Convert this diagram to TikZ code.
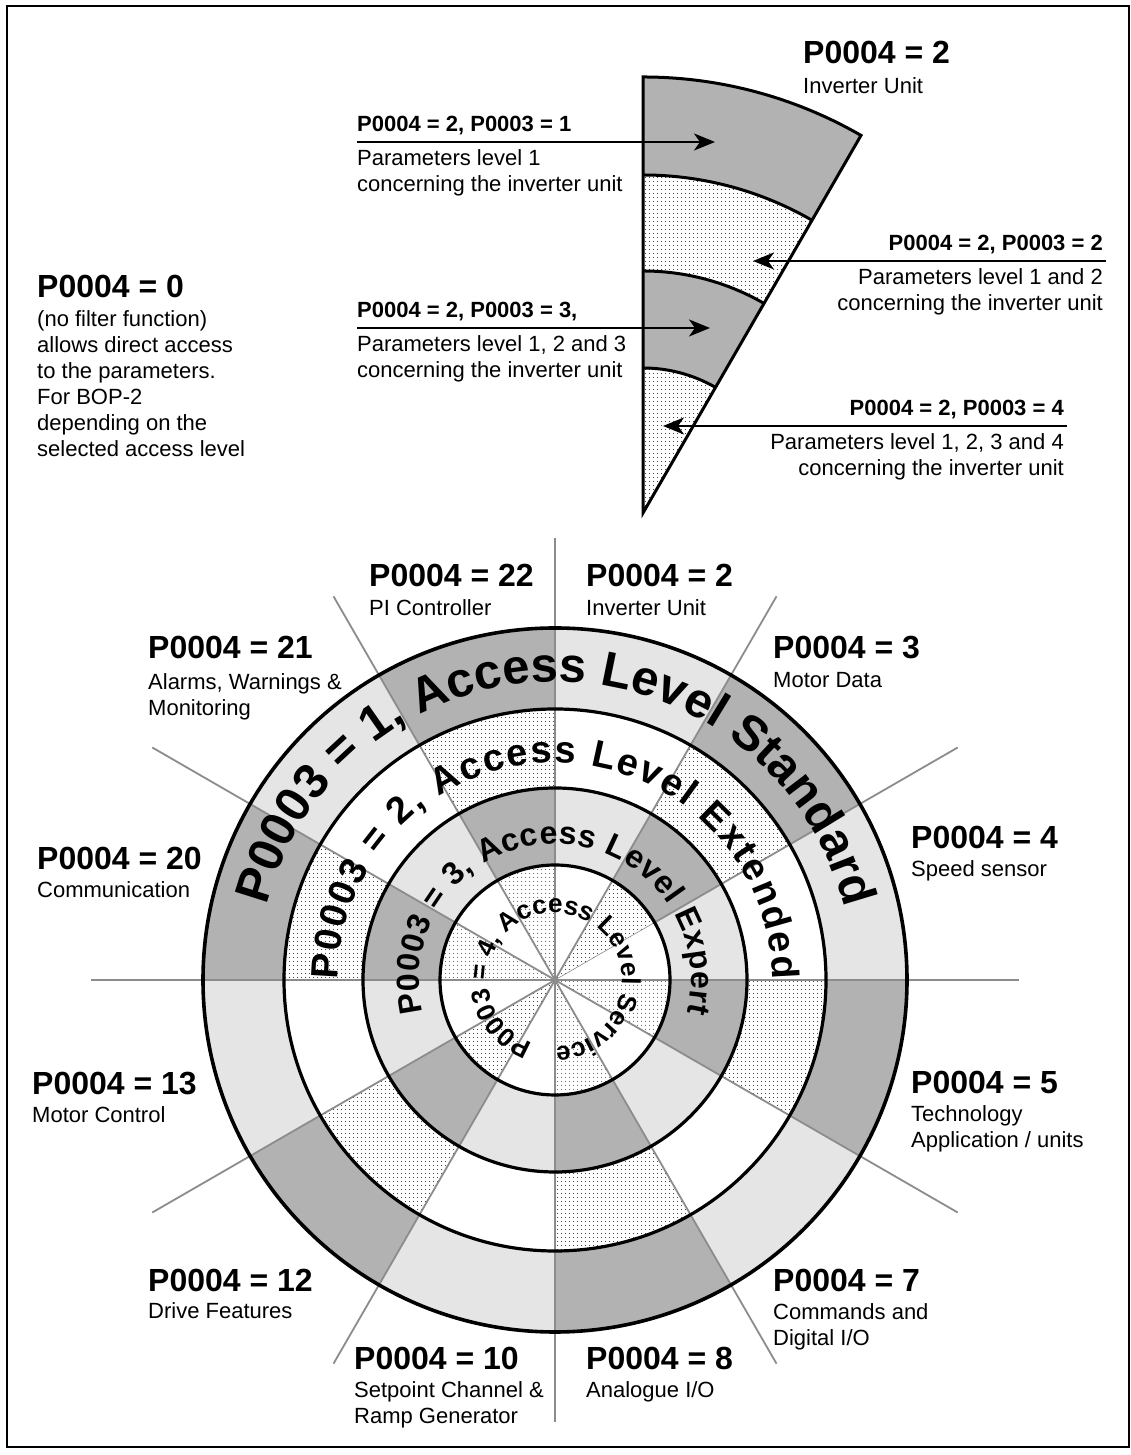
\documentclass[tikz,border=0pt]{standalone}
\usepackage{fontspec}
\setmainfont{Liberation Sans}
\usetikzlibrary{calc,patterns.meta,decorations.text,arrows.meta}

\tikzdeclarepattern{
  name=finedots,
  type=uncolored,
  bounding box={(0pt,0pt) and (4pt,4pt)},
  tile size={(4pt,4pt)},
  code={\fill (2pt,2pt) circle (0.6pt);}
}

\definecolor{darkg}{gray}{0.70}
\definecolor{lightg}{gray}{0.90}
\definecolor{lineg}{gray}{0.55}

\newcommand\ringAfont{\fontsize{49}{49}\selectfont\bfseries}
\newcommand\ringBfont{\fontsize{38}{38}\selectfont\bfseries}
\newcommand\ringCfont{\fontsize{32}{32}\selectfont\bfseries}
\newcommand\ringDfont{\fontsize{26}{26}\selectfont\bfseries}

\begin{document}
\begin{tikzpicture}[x=1pt,y=1pt,
  hdr/.style={anchor=base west,inner sep=0pt,font=\fontsize{32}{32}\selectfont\bfseries},
  sub/.style={anchor=base west,inner sep=0pt,font=\fontsize{22}{26}\selectfont},
  subr/.style={anchor=base east,inner sep=0pt,font=\fontsize{22}{26}\selectfont},
  hdrs/.style={anchor=base west,inner sep=0pt,font=\fontsize{22}{26}\selectfont\bfseries},
  hdrsr/.style={anchor=base east,inner sep=0pt,font=\fontsize{22}{26}\selectfont\bfseries},
  radial/.style={draw=lineg,line width=1.8pt},
  ringline/.style={draw=black,line width=3.2pt},
  wedgeline/.style={draw=black,line width=3pt,line join=miter},
  arr/.style={draw=black,line width=2.5pt,-{Stealth[length=21pt,width=17pt,inset=6pt]}},
  dotfill/.style={pattern=finedots,pattern color=black}
]
\useasboundingbox (0,0) rectangle (1131,1455);
\fill[white] (0,0) rectangle (1131,1455);
\draw[line width=2.5pt] (7,8) rectangle (1129,1449);

% ---------------- main circle ----------------
\coordinate (C) at (555,475);

\foreach \k in {0,...,11}{
  \pgfmathtruncatemacro\a{30*\k}
  \pgfmathtruncatemacro\b{30*\k+30}
  \ifodd\k\relax
    \fill[darkg] ($(C)+(\a:352)$) arc[start angle=\a,end angle=\b,radius=352]
      -- ($(C)+(\b:271)$) arc[start angle=\b,end angle=\a,radius=271] -- cycle;
    \fill[dotfill] ($(C)+(\a:271)$) arc[start angle=\a,end angle=\b,radius=271]
      -- ($(C)+(\b:192)$) arc[start angle=\b,end angle=\a,radius=192] -- cycle;
    \fill[darkg] ($(C)+(\a:192)$) arc[start angle=\a,end angle=\b,radius=192]
      -- ($(C)+(\b:115)$) arc[start angle=\b,end angle=\a,radius=115] -- cycle;
    \fill[dotfill] (C) -- ($(C)+(\a:115)$) arc[start angle=\a,end angle=\b,radius=115] -- cycle;
  \else
    \fill[lightg] ($(C)+(\a:352)$) arc[start angle=\a,end angle=\b,radius=352]
      -- ($(C)+(\b:271)$) arc[start angle=\b,end angle=\a,radius=271] -- cycle;
    \fill[lightg] ($(C)+(\a:192)$) arc[start angle=\a,end angle=\b,radius=192]
      -- ($(C)+(\b:115)$) arc[start angle=\b,end angle=\a,radius=115] -- cycle;
  \fi
}

% radial separator lines
\foreach \ang/\len in {0/464,60/443,90/442,120/443,150/465,180/464,210/465,240/443,270/442,300/443,330/465}{
  \draw[radial] (C) -- ++(\ang:\len);
}
\draw[radial] ($(C)+(30:115)$) -- ($(C)+(30:465)$);
\draw[draw=lineg,line width=0.6pt] (C) -- ($(C)+(30:115)$);

% ring boundaries
\draw[ringline,line width=3.6pt] (C) circle[radius=352];
\draw[ringline] (C) circle[radius=271];
\draw[ringline] (C) circle[radius=192];
\draw[ringline] (C) circle[radius=115];

% ring texts
\path[decorate,decoration={text along path,text={|\ringAfont|P0003 = 1, Access Level Standard},text align={fit to path}}]
  ($(C)+(165.5:298)$) arc[start angle=165.5,end angle=14.5,radius=298];
\path[decorate,decoration={text along path,text={|\ringBfont|P0003 = 2, Access Level Extended},text align={fit to path}}]
  ($(C)+(180:217)$) arc[start angle=180,end angle=0,radius=217];
\path[decorate,decoration={text along path,text={|\ringCfont|P0003 = 3, Access Level Expert},text align={fit to path}}]
  ($(C)+(194:136)$) arc[start angle=194,end angle=-14,radius=136];
\path[decorate,decoration={text along path,text={|\ringDfont|P0003 = 4, Access Level Service},text align={fit to path}}]
  ($(C)+(251:67)$) arc[start angle=251,end angle=-86,radius=67];

% ---------------- top wedge ----------------
\coordinate (W) at (643,942);
\fill[darkg] ($(W)+(60:436)$) arc[start angle=60,end angle=90,radius=436]
  -- ($(W)+(90:338)$) arc[start angle=90,end angle=60,radius=338] -- cycle;
\fill[dotfill] ($(W)+(60:338)$) arc[start angle=60,end angle=90,radius=338]
  -- ($(W)+(90:242)$) arc[start angle=90,end angle=60,radius=242] -- cycle;
\fill[darkg] ($(W)+(60:242)$) arc[start angle=60,end angle=90,radius=242]
  -- ($(W)+(90:145)$) arc[start angle=90,end angle=60,radius=145] -- cycle;
\fill[dotfill] (W) -- ($(W)+(60:145)$) arc[start angle=60,end angle=90,radius=145] -- cycle;
\draw[wedgeline] ($(W)+(90:338)$) arc[start angle=90,end angle=60,radius=338];
\draw[wedgeline] ($(W)+(90:242)$) arc[start angle=90,end angle=60,radius=242];
\draw[wedgeline] ($(W)+(90:145)$) arc[start angle=90,end angle=60,radius=145];
\draw[wedgeline] (W) -- ($(W)+(90:436)$) arc[start angle=90,end angle=60,radius=436] -- cycle;

% ---------------- arrows and their labels ----------------
\node[hdr] (htop) at (803,1391) {P0004 = 2};
\node[sub] (ttop) at (803,1361) {Inverter Unit};

\node[hdrs] (l1) at (357,1323) {P0004 = 2, P0003 = 1};
\node[sub] (l1a) at (357,1289) {Parameters level 1};
\node[sub] (l1b) at (357,1263) {concerning the inverter unit};
\coordinate (a1s) at (357,1313);
\coordinate (a1t) at (715,1313);
\draw[arr] (a1s) -- (a1t);

\node[hdrsr] (l2) at (1103,1204) {P0004 = 2, P0003 = 2};
\node[subr] (l2a) at (1103,1170) {Parameters level 1 and 2};
\node[subr] (l2b) at (1103,1144) {concerning the inverter unit};
\coordinate (a2s) at (1106,1194);
\coordinate (a2t) at (753,1194);
\draw[arr] (a2s) -- (a2t);

\node[hdrs] (l3) at (357,1137) {P0004 = 2, P0003 = 3,};
\node[sub] (l3a) at (357,1103) {Parameters level 1, 2 and 3};
\node[sub] (l3b) at (357,1077) {concerning the inverter unit};
\coordinate (a3s) at (357,1127);
\coordinate (a3t) at (710,1127);
\draw[arr] (a3s) -- (a3t);

\node[hdrsr] (l4) at (1064,1039) {P0004 = 2, P0003 = 4};
\node[subr] (l4a) at (1064,1005) {Parameters level 1, 2, 3 and 4};
\node[subr] (l4b) at (1064,979) {concerning the inverter unit};
\coordinate (a4s) at (1067,1029);
\coordinate (a4t) at (663,1029);
\draw[arr] (a4s) -- (a4t);

% ---------------- P0004 = 0 ----------------
\node[hdr] (h0) at (37,1157) {P0004 = 0};
\node[sub] (t0a) at (37,1128) {(no filter function)};
\node[sub] (t0b) at (37,1102) {allows direct access};
\node[sub] (t0c) at (37,1076) {to the parameters.};
\node[sub] (t0d) at (37,1050) {For BOP-2};
\node[sub] (t0e) at (37,1024) {depending on the};
\node[sub] (t0f) at (37,998) {selected access level};

% ---------------- sector labels ----------------
\node[hdr] (h22) at (369,868) {P0004 = 22};
\node[sub] (t22) at (369,839) {PI Controller};
\node[hdr] (h2) at (586,868) {P0004 = 2};
\node[sub] (t2) at (586,839) {Inverter Unit};
\node[hdr] (h21) at (148,796) {P0004 = 21};
\node[sub] (t21a) at (148,765) {Alarms, Warnings \&};
\node[sub] (t21b) at (148,739) {Monitoring};
\node[hdr] (h3) at (773,796) {P0004 = 3};
\node[sub] (t3) at (773,767) {Motor Data};
\node[hdr] (h20) at (37,585) {P0004 = 20};
\node[sub] (t20) at (37,557) {Communication};
\node[hdr] (h4) at (911,606) {P0004 = 4};
\node[sub] (t4) at (911,578) {Speed sensor};
\node[hdr] (h13) at (32,360) {P0004 = 13};
\node[sub] (t13) at (32,332) {Motor Control};
\node[hdr] (h5) at (911,361) {P0004 = 5};
\node[sub] (t5a) at (911,333) {Technology};
\node[sub] (t5b) at (911,307) {Application / units};
\node[hdr] (h12) at (148,163) {P0004 = 12};
\node[sub] (t12) at (148,136) {Drive Features};
\node[hdr] (h7) at (773,163) {P0004 = 7};
\node[sub] (t7a) at (773,135) {Commands and};
\node[sub] (t7b) at (773,109) {Digital I/O};
\node[hdr] (h10) at (354,85) {P0004 = 10};
\node[sub] (t10a) at (354,57) {Setpoint Channel \&};
\node[sub] (t10b) at (354,31) {Ramp Generator};
\node[hdr] (h8) at (586,85) {P0004 = 8};
\node[sub] (t8) at (586,57) {Analogue I/O};
\end{tikzpicture}
\end{document}
